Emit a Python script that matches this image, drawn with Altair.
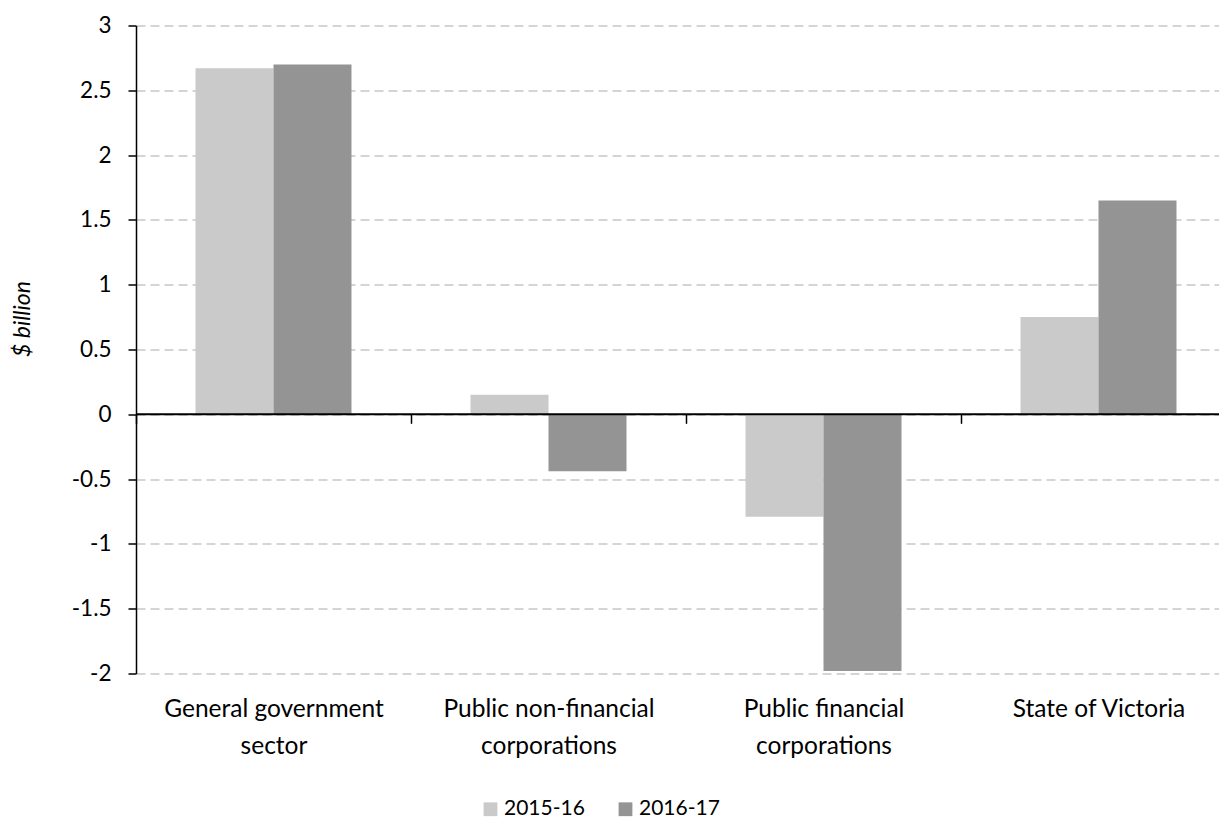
import altair as alt
import pandas as pd

categories = ["General government\nsector", "Public non-financial\ncorporations",
              "Public financial\ncorporations", "State of Victoria"]
years = ["2015-16", "2016-17"]
values_2015_16 = [2.67, 0.15, -0.79, 0.75]
values_2016_17 = [2.70, -0.44, -1.98, 1.65]
y_ticks = [-2, -1.5, -1, -0.5, 0, 0.5, 1, 1.5, 2, 2.5, 3]
zero_line = [0]

rows = []
for i, c in enumerate(categories):
    rows.append({"category": c, "year": years[0], "value": values_2015_16[i]})
    rows.append({"category": c, "year": years[1], "value": values_2016_17[i]})
df = pd.DataFrame(rows)

FONT = "Lato"
W, H = 1083, 648
BAND_RANGE = 1100  # categories continue past the right edge, as in the original
zero_offset = -H * 2 / 5

bars = alt.Chart(df).mark_bar().encode(
    x=alt.X("category:N", sort=categories,
            scale=alt.Scale(paddingInner=0, paddingOuter=0, range=[0, BAND_RANGE]),
            axis=alt.Axis(title=None, domain=False, ticks=True, tickBand="extent",
                          tickSize=9, tickColor="black", tickWidth=1.5,
                          offset=zero_offset, labelPadding=274, labelAngle=0,
                          labelExpr="split(datum.label, '\\n')", labelLimit=0,
                          labelFontSize=24.5, labelLineHeight=37, labelBaseline="top",
                          labelColor="black", labelFont=FONT, grid=False)),
    xOffset=alt.XOffset("year:N", sort=years,
                        scale=alt.Scale(paddingInner=0, paddingOuter=0.763)),
    y=alt.Y("value:Q", scale=alt.Scale(domain=[-2, 3], nice=False),
            axis=alt.Axis(title="$ billion", values=y_ticks,
                          labelExpr="toString(datum.value)",
                          labelFontSize=22.5, labelFont=FONT, labelColor="black",
                          labelPadding=17, tickSize=8, tickColor="black", tickWidth=1.5,
                          domainColor="black", domainWidth=1.5,
                          grid=True, gridColor="#c8c8c8", gridDash=[9, 5], gridWidth=1.5,
                          titleFont=FONT, titleFontSize=23, titleFontStyle="italic",
                          titleFontWeight="normal", titleColor="black",
                          titleX=-113.5, titleY=293, titleBaseline="middle",
                          titleAlign="center", titleAngle=270)),
    color=alt.Color("year:N", scale=alt.Scale(domain=years, range=["#cacaca", "#949494"]),
                    legend=alt.Legend(title=None, orient="none", direction="horizontal",
                                      legendX=344, legendY=773,
                                      symbolType="square", symbolSize=190,
                                      symbolStrokeWidth=0, labelFont=FONT,
                                      labelFontSize=21, labelColor="black",
                                      columnPadding=30, labelOffset=3)),
)

rule = alt.Chart(pd.DataFrame({"zero": zero_line})).mark_rule(
    color="black", strokeWidth=2
).encode(y="zero:Q")

chart = alt.layer(bars, rule).properties(
    width=W, height=H,
    autosize=alt.AutoSizeParams(type="none"),
    padding={"left": 128, "top": 17.5, "right": 0, "bottom": 145.5},
).configure_view(stroke=None)

chart.save("out.html", embed_options={"renderer": "svg", "actions": False})
